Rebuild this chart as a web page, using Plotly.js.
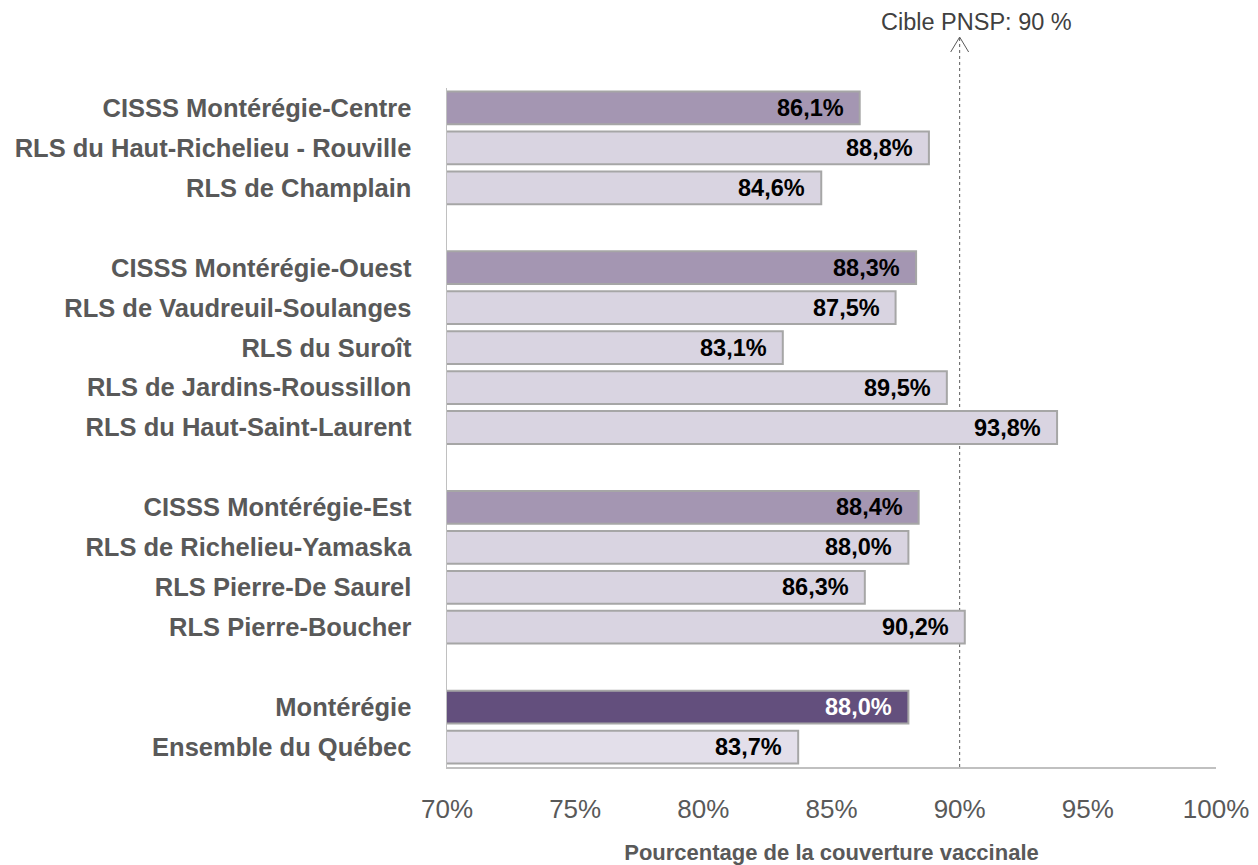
<!DOCTYPE html>
<html>
<head>
<meta charset="utf-8">
<script src="https://cdn.plot.ly/plotly-3.0.1.min.js"></script>
<style>
  body { margin: 0; background: #fff; }
  #chart { width: 1258px; height: 865px; }
</style>
</head>
<body>
<div id="chart"></div>
<script>
// territories, top to bottom ; blank names are the gaps between groups
var territoires = [
  "CISSS Montérégie-Centre",
  "RLS du Haut-Richelieu - Rouville",
  "RLS de Champlain",
  " ",
  "CISSS Montérégie-Ouest",
  "RLS de Vaudreuil-Soulanges",
  "RLS du Suroît",
  "RLS de Jardins-Roussillon",
  "RLS du Haut-Saint-Laurent",
  "  ",
  "CISSS Montérégie-Est",
  "RLS de Richelieu-Yamaska",
  "RLS Pierre-De Saurel",
  "RLS Pierre-Boucher",
  "   ",
  "Montérégie",
  "Ensemble du Québec"
];
var couverture = [86.1, 88.8, 84.6, null, 88.3, 87.5, 83.1, 89.5, 93.8, null, 88.4, 88.0, 86.3, 90.2, null, 88.0, 83.7];
var niveau = ["cisss", "rls", "rls", "", "cisss", "rls", "rls", "rls", "rls", "", "cisss", "rls", "rls", "rls", "", "region", "quebec"];
var cible = 90;
var xTicks = [70, 75, 80, 85, 90, 95, 100];

var couleurs = {cisss: "#a496b2", rls: "#d9d4e1", region: "#634f7d", quebec: "#e3dfea", "": "#ffffff"};
var couleursTexte = {cisss: "#000000", rls: "#000000", region: "#ffffff", quebec: "#000000", "": "#000000"};

var fontFam = "Liberation Sans, Arial, sans-serif";

var trace = {
  type: "bar",
  orientation: "h",
  y: territoires,
  x: couverture,
  base: 0,
  width: 0.82,
  marker: {
    color: niveau.map(function(n){ return couleurs[n]; }),
    line: {color: "#a6a6a6", width: 2}
  },
  hoverinfo: "x+y"
};

var annotations = [];
for (var i = 0; i < territoires.length; i++) {
  if (couverture[i] == null) continue;
  annotations.push({
    x: couverture[i], y: territoires[i],
    xref: "x", yref: "y",
    text: "<b>" + couverture[i].toFixed(1).replace(".", ",") + "%</b>",
    showarrow: false,
    xanchor: "right",
    xshift: -14,
    font: {family: fontFam, size: 23.5, color: couleursTexte[niveau[i]]}
  });
}
annotations.push({
  x: cible, y: 1.097, xref: "x", yref: "paper",
  text: "Cible PNSP: 90 %",
  showarrow: false,
  xanchor: "center",
  yanchor: "middle",
  xshift: 17,
  font: {family: fontFam, size: 23.5, color: "#404040"}
});

var layout = {
  width: 1258,
  height: 865,
  margin: {l: 447, r: 42, t: 88, b: 98},
  paper_bgcolor: "#ffffff",
  plot_bgcolor: "#ffffff",
  showlegend: false,
  bargap: 0.18,
  xaxis: {
    range: [70, 100],
    tickvals: xTicks,
    ticktext: xTicks.map(function(t){ return t + "%"; }),
    showgrid: false,
    zeroline: false,
    showline: true,
    linecolor: "#c0c0c0",
    linewidth: 1.5,
    ticks: "",
    ticklabelstandoff: 18,
    tickfont: {family: fontFam, size: 26, color: "#595959"},
    title: {
      text: "<b>Pourcentage de la couverture vaccinale</b>",
      font: {family: fontFam, size: 22, color: "#595959"},
      standoff: 26
    },
    automargin: false
  },
  yaxis: {
    type: "category",
    range: [16.5, -0.5],
    showgrid: false,
    zeroline: false,
    showline: true,
    linecolor: "#c0c0c0",
    linewidth: 1.5,
    ticks: "",
    ticklabelstandoff: 29,
    tickfont: {family: fontFam, size: 25.5, color: "#595959"},
    tickprefix: "<b>",
    ticksuffix: "</b>",
    automargin: false
  },
  shapes: [
    {
      type: "line", xref: "x", yref: "paper",
      x0: cible, x1: cible, y0: 0, y1: 1.075,
      line: {color: "#595959", width: 1, dash: "dot"},
      layer: "below"
    },
    {
      type: "path", xref: "x", yref: "paper",
      path: "M " + (cible - 0.35) + ",1.053 L " + cible + ",1.075 L " + (cible + 0.35) + ",1.053",
      line: {color: "#595959", width: 1}
    }
  ],
  annotations: annotations
};

Plotly.newPlot("chart", [trace], layout, {displayModeBar: false, staticPlot: true});
</script>
</body>
</html>
